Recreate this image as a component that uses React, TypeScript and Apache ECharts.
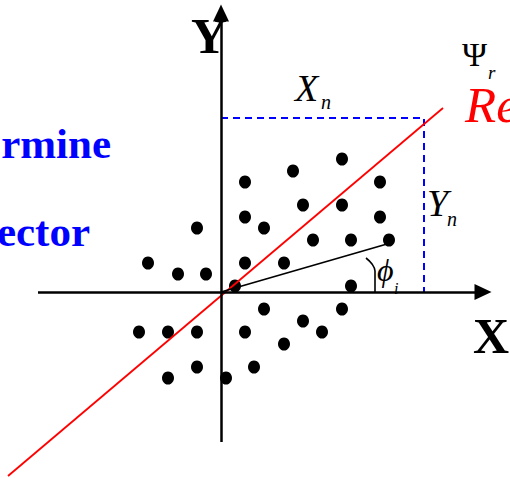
import React, { useEffect, useRef } from "react";
import * as echarts from "echarts";

// Scatter points (x, y) in diagram units, origin at axis crossing
const pointsX = [2.4, 7.2, 12.1, 15.9, 8.2, 12.1, 2.4, 15.9, -2.4, 4.3, 9.2, 13.0, 16.8, -7.3, 2.4, 6.3, -4.3, -1.5, 1.4, 13.0, 4.3, 12.1, 8.2, -8.2, -5.3, -2.4, 2.4, 10.1, 6.3, -2.4, 3.3, -5.3, 0.5];
const pointsY = [11.0, 12.1, 13.3, 11.0, 8.7, 8.7, 7.5, 7.5, 6.4, 6.4, 5.2, 5.2, 5.2, 2.9, 2.9, 2.9, 1.8, 1.8, 0.6, 0.6, -1.7, -1.7, -2.9, -4.0, -4.0, -4.0, -4.0, -4.0, -5.2, -7.5, -7.5, -8.6, -8.6];

// Reference (red) line end points
const refLineX = [-21.3, 22.2];
const refLineY = [-18.4, 18.4];

// Projection (dashed blue) corner
const projX = [0, 20.3, 20.3];
const projY = [17.4, 17.4, 0];

// Vector to point i
const vecX = [0, 16.6];
const vecY = [0, 4.8];

// Angle arc
const arcX = [14.5, 15.1, 15.4, 15.4];
const arcY = [3.4, 2.8, 2.1, 0];

// Axis extents
const xAxisExtent = [-18.3, 26.2];
const yAxisExtent = [-15.0, 27.9];

const zip = (a: number[], b: number[]) => a.map((v, i) => [v, b[i]]);

export default function App() {
  const ref = useRef<HTMLDivElement>(null);
  useEffect(() => {
    if (!ref.current) return;
    const chart = echarts.init(ref.current, null, { renderer: "svg" });
    const serif = "'Liberation Serif', 'DejaVu Serif', serif";
    chart.setOption({
      animation: false,
      backgroundColor: "#ffffff",
      grid: { left: 0, right: 0, top: 0, bottom: 0, containLabel: false },
      xAxis: { type: "value", min: -22.1, max: 28.9, show: false },
      yAxis: { type: "value", min: -18.6, max: 29.2, show: false },
      series: [
        {
          type: "line",
          name: "axes",
          data: [],
          silent: true,
          markLine: {
            silent: true,
            symbol: ["none", "triangle"],
            symbolSize: [16, 17],
            label: { show: false },
            lineStyle: { color: "#000", width: 2.5, type: "solid" },
            emphasis: { disabled: true },
            data: [
              [{ coord: [xAxisExtent[0], 0] }, { coord: [xAxisExtent[1], 0] }],
              [{ coord: [0, yAxisExtent[0]] }, { coord: [0, yAxisExtent[1]] }],
            ],
          },
        },
        {
          type: "line",
          name: "projection",
          data: zip(projX, projY),
          symbol: "none",
          silent: true,
          lineStyle: { color: "#0000ff", width: 2, type: [7, 5] },
        },
        {
          type: "scatter",
          name: "points",
          data: zip(pointsX, pointsY),
          symbol: "circle",
          symbolSize: [12, 13],
          itemStyle: { color: "#000", opacity: 1 },
          silent: true,
        },
        {
          type: "line",
          name: "reference",
          data: zip(refLineX, refLineY),
          symbol: "none",
          silent: true,
          lineStyle: { color: "#ff0000", width: 1.8 },
        },
        {
          type: "line",
          name: "vector",
          data: zip(vecX, vecY),
          symbol: "none",
          silent: true,
          lineStyle: { color: "#000", width: 1.8 },
        },
        {
          type: "line",
          name: "angle",
          data: zip(arcX, arcY),
          symbol: "none",
          smooth: 0.4,
          silent: true,
          lineStyle: { color: "#000", width: 1.6 },
        },
      ],
      graphic: [
        { type: "text", x: 209, y: 36, style: { text: "Y", font: `bold 50px ${serif}`, fill: "#000", align: "center", verticalAlign: "middle" } },
        { type: "text", x: 491, y: 336, style: { text: "X", font: `bold 50px ${serif}`, fill: "#000", align: "center", verticalAlign: "middle" } },
        { type: "text", x: 111, y: 143, style: { text: "rmine", font: `bold 43px ${serif}`, fill: "#0000ff", align: "right", verticalAlign: "middle" } },
        { type: "text", x: 90, y: 231, style: { text: "ector", font: `bold 43px ${serif}`, fill: "#0000ff", align: "right", verticalAlign: "middle" } },
        { type: "text", x: 465, y: 105, style: { text: "Re", font: `italic 51px ${serif}`, fill: "#ff0000", align: "left", verticalAlign: "middle" } },
        { type: "text", x: 462, y: 54, style: { text: "Ψ", font: `34px ${serif}`, fill: "#000", align: "left", verticalAlign: "middle" } },
        { type: "text", x: 488, y: 72, style: { text: "r", font: `italic 19px ${serif}`, fill: "#000", align: "left", verticalAlign: "middle" } },
        { type: "text", x: 295, y: 88, style: { text: "X", font: `italic 38px ${serif}`, fill: "#000", align: "left", verticalAlign: "middle" } },
        { type: "text", x: 321, y: 102, style: { text: "n", font: `italic 20px ${serif}`, fill: "#000", align: "left", verticalAlign: "middle" } },
        { type: "text", x: 427, y: 203, style: { text: "Y", font: `italic 38px ${serif}`, fill: "#000", align: "left", verticalAlign: "middle" } },
        { type: "text", x: 447, y: 219, style: { text: "n", font: `italic 20px ${serif}`, fill: "#000", align: "left", verticalAlign: "middle" } },
        { type: "text", x: 377, y: 270, style: { text: "ϕ", font: `italic 32px ${serif}`, fill: "#000", align: "left", verticalAlign: "middle" } },
        { type: "text", x: 394, y: 288, style: { text: "i", font: `italic 16px ${serif}`, fill: "#000", align: "left", verticalAlign: "middle" } },
      ],
    });
    return () => chart.dispose();
  }, []);
  return <div ref={ref} style={{ position: "absolute", left: 0, top: 0, width: 510, height: 478 }} />;
}
